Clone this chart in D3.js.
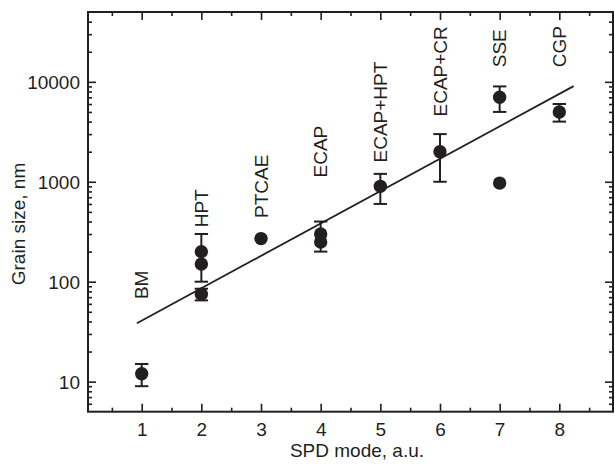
<!DOCTYPE html>
<html>
<head>
<meta charset="utf-8">
<script src="https://cdn.jsdelivr.net/npm/d3@7"></script>
<style>
  html, body { margin: 0; padding: 0; background: #fff; }
  svg text { font-family: "Liberation Sans", Arial, Helvetica, sans-serif; fill: #231f20; }
</style>
</head>
<body>
<svg id="chart" width="615" height="468"></svg>
<script>
// ---- data ----
const modes     = [1,   2,   2,   2,  3,   4,   4,   5,    6,    7,    7,   8];
const grainSize = [12,  200, 150, 75, 270, 300, 250, 900,  2000, 7000, 970, 5000];
const errLow    = [9,   100, null, 65, null, 200, null, 600, 1000, 5000, null, 4000];
const errHigh   = [15,  300, null, 85, null, 400, null, 1200, 3000, 9000, null, 6000];

const methodNames  = ["BM", "HPT", "PTCAE", "ECAP", "ECAP+HPT", "ECAP+CR", "SSE", "CGP"];
const methodModes  = [1, 2, 3, 4, 5, 6, 7, 8];
const labelAnchors = [67, 350, 434, 1104, 1560, 4500, 14000, 14000];

const fitX = [0.92, 8.24];
const fitY = [38.4, 9060];

const xTicks = [1, 2, 3, 4, 5, 6, 7, 8];
const xMinorTicks = [0.5, 1.5, 2.5, 3.5, 4.5, 5.5, 6.5, 7.5, 8.5];
const yTicks = [10, 100, 1000, 10000];
const yTickLabels = ["10", "100", "1000", "10000"];

(function () {
// ---- layout ----
const mLeft = 88, mRight = 613, mTop = 12, mBottom = 411.7;
const ink = "#231f20";

const svg = d3.select("#chart");
const x = d3.scaleLinear().domain([0.1, 8.9]).range([mLeft, mRight]);
const y = d3.scaleLog().domain([5, 50000]).range([mBottom, mTop]);

// minor log ticks
const yMinor = [];
[1, 10, 100, 1000, 10000].forEach(d => {
  for (let k = 2; k <= 9; k++) {
    const v = d * k;
    if (v > 5 && v < 50000) yMinor.push(v);
  }
});

const majorLen = 8, minorLen = 4;
const axisG = svg.append("g");

function drawAxis(axisGen, tx, ty) {
  const g = axisG.append("g").attr("transform", `translate(${tx},${ty})`).call(axisGen);
  g.select(".domain").remove();
  g.selectAll(".tick line").attr("stroke", ink).attr("stroke-width", 1.6);
  return g;
}

// bottom
const gb = drawAxis(d3.axisBottom(x).tickValues(xTicks).tickSize(-majorLen).tickFormat(d3.format("d")), 0, mBottom);
gb.selectAll(".tick text").attr("y", 24.3).attr("dy", 0).attr("font-size", 19).attr("fill", ink);
drawAxis(d3.axisBottom(x).tickValues(xMinorTicks).tickSize(-minorLen).tickFormat(""), 0, mBottom);
// top
drawAxis(d3.axisTop(x).tickValues(xTicks).tickSize(-majorLen).tickFormat(""), 0, mTop);
drawAxis(d3.axisTop(x).tickValues(xMinorTicks).tickSize(-minorLen).tickFormat(""), 0, mTop);
// left
const gl = drawAxis(d3.axisLeft(y).tickValues(yTicks).tickSize(-majorLen).tickFormat((d, i) => yTickLabels[i]), mLeft, 0);
gl.selectAll(".tick text").attr("x", -8).attr("dy", "0.35em").attr("font-size", 19).attr("fill", ink);
drawAxis(d3.axisLeft(y).tickValues(yMinor).tickSize(-minorLen).tickFormat(""), mLeft, 0);
// right
drawAxis(d3.axisRight(y).tickValues(yTicks).tickSize(-majorLen).tickFormat(""), mRight, 0);
drawAxis(d3.axisRight(y).tickValues(yMinor).tickSize(-minorLen).tickFormat(""), mRight, 0);

// frame
svg.append("rect")
  .attr("x", mLeft).attr("y", mTop)
  .attr("width", mRight - mLeft).attr("height", mBottom - mTop)
  .attr("fill", "none").attr("stroke", ink).attr("stroke-width", 2);

// fit line
const line = d3.line().x(d => x(d[0])).y(d => y(d[1]));
svg.append("path")
  .datum(d3.zip(fitX, fitY))
  .attr("d", line)
  .attr("fill", "none").attr("stroke", ink).attr("stroke-width", 1.8);

// error bars
const pts = modes.map((m, i) => ({ m, v: grainSize[i], lo: errLow[i], hi: errHigh[i] }));
const capW = 6.7;
const eg = svg.append("g").attr("stroke", ink).attr("stroke-width", 2);
pts.filter(p => p.lo != null).forEach(p => {
  eg.append("line").attr("x1", x(p.m)).attr("x2", x(p.m)).attr("y1", y(p.lo)).attr("y2", y(p.hi));
  eg.append("line").attr("x1", x(p.m) - capW).attr("x2", x(p.m) + capW).attr("y1", y(p.lo)).attr("y2", y(p.lo));
  eg.append("line").attr("x1", x(p.m) - capW).attr("x2", x(p.m) + capW).attr("y1", y(p.hi)).attr("y2", y(p.hi));
});

// points
svg.append("g").selectAll("circle").data(pts).join("circle")
  .attr("cx", d => x(d.m)).attr("cy", d => y(d.v)).attr("r", 6.7)
  .attr("fill", ink);

// method labels (rotated)
svg.append("g").selectAll("text").data(methodNames).join("text")
  .attr("transform", (d, i) => `translate(${x(methodModes[i]) + 6.8},${y(labelAnchors[i])}) rotate(-90)`)
  .attr("text-anchor", "start")
  .attr("font-size", 19)
  .text(d => d);

// axis titles
svg.append("text")
  .attr("x", 357).attr("y", 456.7)
  .attr("text-anchor", "middle").attr("font-size", 19)
  .text("SPD mode, a.u.");
svg.append("text")
  .attr("transform", "translate(25,224) rotate(-90)")
  .attr("text-anchor", "middle").attr("font-size", 19)
  .text("Grain size, nm");
})();
</script>
</body>
</html>
